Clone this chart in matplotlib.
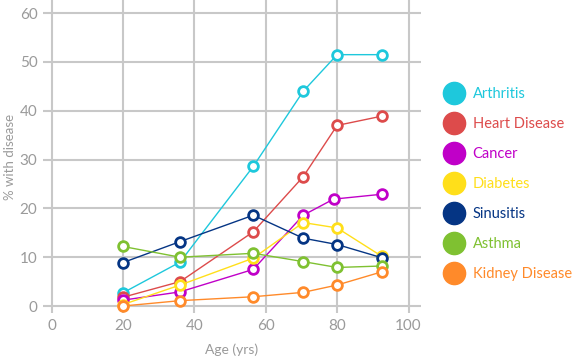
import matplotlib
matplotlib.use("Agg")
import matplotlib.pyplot as plt
from matplotlib.lines import Line2D

plt.rcParams['font.family'] = ['Lato', 'DejaVu Sans']

ages = [20, 36, 56.5, 70.5, 80, 92.5]
cancer_ages = [20, 36, 56.5, 70.5, 79, 92.5]

arthritis = [2.7, 9.0, 28.6, 44.0, 51.5, 51.5]
heart = [1.8, 5.0, 15.2, 26.5, 37.0, 38.9]
cancer = [1.2, 2.9, 7.5, 18.6, 21.9, 22.9]
diabetes = [0.3, 4.3, 9.8, 17.1, 16.0, 10.2]
sinusitis = [8.9, 13.2, 18.6, 13.9, 12.6, 9.9]
asthma = [12.2, 10.0, 10.8, 9.1, 7.9, 8.2]
kidney = [0.0, 1.1, 1.9, 2.8, 4.3, 7.0]

names = ['Arthritis', 'Heart Disease', 'Cancer', 'Diabetes', 'Sinusitis', 'Asthma', 'Kidney Disease']
colors = ['#1ec8dc', '#dd4b4b', '#c000c8', '#ffdf1a', '#053584', '#7fc131', '#ff8a2a']
series = [arthritis, heart, cancer, diabetes, sinusitis, asthma, kidney]
xs = [ages, ages, cancer_ages, ages, ages, ages, ages]

fig = plt.figure(figsize=(5.75, 3.57), dpi=100)
ax = fig.add_axes([43 / 575, 44 / 357, 378 / 575, 313 / 357])

# draw back to front so cyan ends on top like the reference
order = [6, 5, 3, 2, 1, 4, 0]
for i in order:
    ax.plot(xs[i], series[i], color=colors[i], lw=1, marker='o', ms=7,
            mfc='white', mec=colors[i], mew=2, zorder=3 + i * 0.01)

ax.set_xlim(-2.4, 103.5)
ax.set_ylim(-1.43, 62.7)
ax.set_xticks([0, 20, 40, 60, 80, 100])
ax.set_yticks([0, 10, 20, 30, 40, 50, 60])
ax.grid(True, color='#c8c8c8', lw=1.5)
ax.set_axisbelow(True)
for s in ax.spines.values():
    s.set_visible(False)
ax.tick_params(length=0, labelsize=11, colors='#9a9a9a', pad=4)
ax.set_xlabel('Age (yrs)', fontsize=10, color='#9a9a9a', labelpad=8)
ax.set_ylabel('% with disease', fontsize=9.5, color='#9a9a9a')
ax.yaxis.set_label_coords(-0.072, 0.5)

handles = [Line2D([], [], ls='none', marker='o', ms=16, mfc=c, mec=c) for c in colors]
leg = fig.legend(handles, names, loc='upper left', bbox_to_anchor=(437 / 575, 1 - 81 / 357),
                 frameon=False, fontsize=10.5, labelspacing=1.1, handletextpad=0.55,
                 handlelength=1.5, borderaxespad=0)
for t, c in zip(leg.get_texts(), colors):
    t.set_color(c)

fig.savefig('out.png', dpi=100)
